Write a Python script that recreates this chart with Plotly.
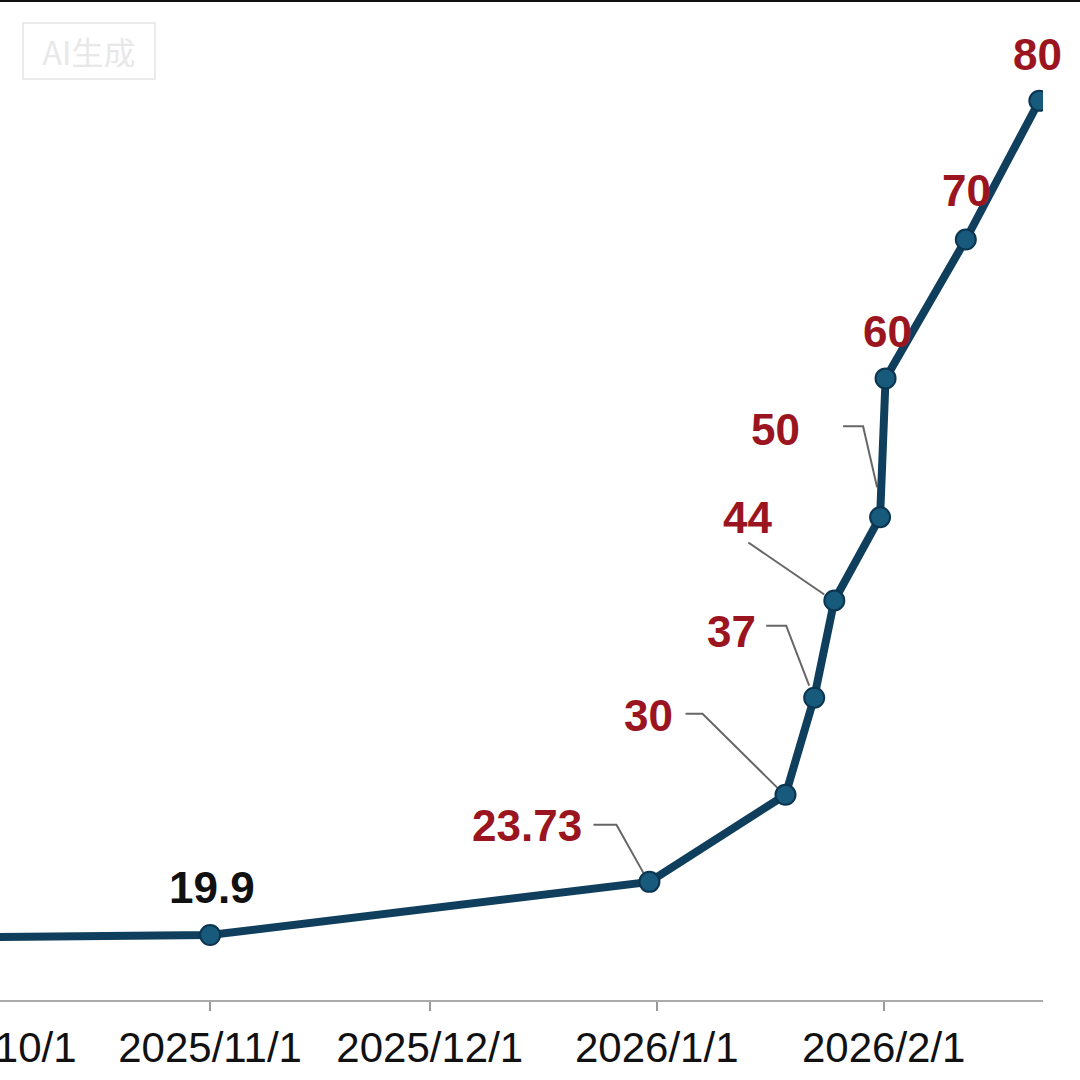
import plotly.graph_objects as go

# ---- data ----
dates = ["2025-10-01", "2025-11-01", "2025-12-31", "2026-01-18 14:00", "2026-01-22 12:00",
         "2026-01-25 06:00", "2026-01-31 12:00", "2026-02-01 06:00", "2026-02-12 05:00", "2026-02-22 06:00"]
values = [19.75, 19.9, 23.73, 30, 37, 44, 50, 60, 70, 80]
labels = ["", "19.9", "23.73", "30", "37", "44", "50", "60", "70", "80"]
label_colors = ["#111111", "#111111", "#9b1520", "#9b1520", "#9b1520", "#9b1520",
                "#9b1520", "#9b1520", "#9b1520", "#9b1520"]
tick_vals = ["2025-10-01", "2025-11-01", "2025-12-01", "2026-01-01", "2026-02-01"]
tick_text = ["2025/10/1", "2025/11/1", "2025/12/1", "2026/1/1", "2026/2/1"]

# label offsets (pixels) and leader paths (pixels relative to the point, y up)
label_shift = [None, (2, 48), (-122, 56), (-137, 79), (-83, 66), (-87, 83),
               (-105, 88), (2, 47), (1, 49), (-2, 46)]
leaders = {
    2: [(-56, 57), (-33, 57), (-6, 9)],
    3: [(-100, 81), (-83, 81), (-8, 7)],
    4: [(-48, 72), (-28, 72), (-5, 12)],
    5: [(-86, 58), (-10, 6)],
    6: [(-37, 91), (-17, 91), (-3, 30)],
}

FONT = "Liberation Sans, Arial"
HIDDEN = 120          # px of the figure hidden left of the window (the chart is cropped there)
PLOT_W = 1043 + HIDDEN

fig = go.Figure()
fig.add_trace(go.Scatter(
    x=dates, y=values, mode="lines+markers",
    line=dict(color="#0f3f5d", width=8),
    marker=dict(size=20, color="#175a7c", line=dict(color="#0b3550", width=2)),
    hoverinfo="skip", showlegend=False,
))

for i, txt in enumerate(labels):
    if not txt:
        continue
    dx, dy = label_shift[i]
    fig.add_annotation(x=dates[i], y=values[i], xref="x", yref="y", text=f"<b>{txt}</b>",
                       showarrow=False, xshift=dx, yshift=dy,
                       font=dict(family=FONT, size=44, color=label_colors[i]))

for i, pts in leaders.items():
    path = "M " + " L ".join(f"{px},{py}" for px, py in pts)
    fig.add_shape(type="path", xref="x", yref="y", xsizemode="pixel", ysizemode="pixel",
                  xanchor=dates[i], yanchor=values[i], path=path,
                  line=dict(color="#666666", width=2), layer="below")

# watermark
fig.add_annotation(x=(22 + HIDDEN) / PLOT_W, y=1 - 22 / 1000, xref="paper", yref="paper",
                   text="AI生成", showarrow=False, xanchor="left", yanchor="top",
                   width=108, height=32, align="center",
                   bordercolor="#ebebeb", borderwidth=2, borderpad=11,
                   font=dict(family="Noto Sans CJK SC", size=32, color="#e8e8e8"))

# top border line
fig.add_shape(type="line", xref="paper", yref="paper", x0=0, x1=1.1, y0=1, y1=1,
              line=dict(color="#111111", width=4))

fig.update_layout(
    width=1080 + HIDDEN, height=1080,
    margin=dict(l=0, r=37, t=0, b=80),
    plot_bgcolor="white", paper_bgcolor="white",
    xaxis=dict(type="date", range=["2025-09-16 22:00", "2026-02-22 18:00"],
               tickvals=tick_vals, ticktext=tick_text, showgrid=False, zeroline=False,
               showline=True, linecolor="#aaaaaa", linewidth=2,
               ticks="outside", ticklen=9, tickwidth=2, tickcolor="#999999",
               ticklabelstandoff=1,
               tickfont=dict(family=FONT, size=42, color="#111111")),
    yaxis=dict(range=[15.22, 87.26], visible=False, showgrid=False, zeroline=False),
)

post = ("document.body.style.margin='0';document.body.style.overflow='hidden';"
        f"document.getElementById('{{plot_id}}').style.marginLeft='-{HIDDEN}px';")
fig.write_html("out.html", config={"displayModeBar": False}, post_script=post)
